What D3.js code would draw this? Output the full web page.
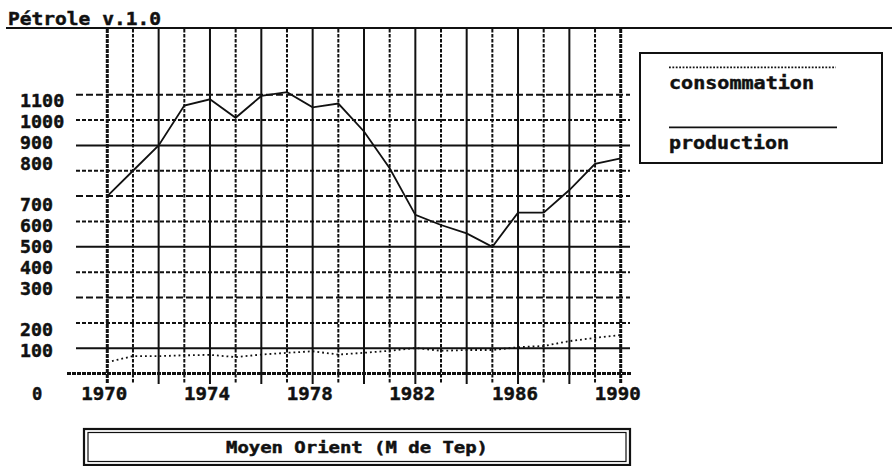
<!DOCTYPE html>
<html><head><meta charset="utf-8">
<script src="https://cdn.jsdelivr.net/npm/d3@7/dist/d3.min.js"></script>
<style>
html,body{margin:0;padding:0;background:#fff;}
text{font-family:"DejaVu Sans Mono",monospace;font-weight:bold;fill:#111;stroke:#111;stroke-width:0.45px;}
</style></head>
<body>
<svg id="c" width="892" height="466"></svg>
<script>
const years = d3.range(1970, 1991);
const production = [700, 800, 900, 1057, 1082, 1009, 1095, 1110, 1050, 1065, 955, 810, 626, 586, 553, 500, 635, 635, 724, 827, 849];
const consommation = [45, 69, 69, 72, 74, 65, 75, 82, 88, 75, 82, 90, 101, 90, 93, 93, 104, 109, 128, 141, 152];
const yTicks = [0, 100, 200, 300, 400, 500, 600, 700, 800, 900, 1000, 1100];
const xTickLabels = [1970, 1974, 1978, 1982, 1986, 1990];
const titleText = "Pétrole v.1.0";
const legendLabels = ["consommation", "production"];
const footerText = "Moyen Orient (M de Tep)";

const svg = d3.select("#c");
const x = d3.scaleLinear().domain([1970, 1990]).range([107.3, 620.7]);
const y = d3.scaleLinear().domain([0, 1100]).range([373.6, 94.7]);
const ink = "#111";
const fs = 17;

// title + underline across the page
svg.append("text").attr("x", 8).attr("y", 25).attr("font-size", fs)
  .attr("textLength", 153).attr("lengthAdjust", "spacingAndGlyphs").text(titleText);
svg.append("line").attr("x1", 6).attr("x2", 892).attr("y1", 28).attr("y2", 28)
  .attr("stroke", ink).attr("stroke-width", 2);

// horizontal grid
const g = svg.append("g");
yTicks.filter(v => v > 0).forEach(v => {
  const m = v % 400;
  const dash = m === 100 ? null : (m === 300 ? "7,3" : "4,2");
  g.append("line").attr("x1", 76).attr("x2", 630).attr("y1", y(v)).attr("y2", y(v))
    .attr("stroke", ink).attr("stroke-width", 2).attr("stroke-dasharray", dash);
});

// vertical grid
years.forEach(yr => {
  const edge = (yr === 1970 || yr === 1990);
  const solid = !edge && yr % 2 === 0;
  g.append("line").attr("x1", x(yr)).attr("x2", x(yr)).attr("y1", 29).attr("y2", 384)
    .attr("stroke", ink).attr("stroke-width", edge ? 3 : 2)
    .attr("stroke-dasharray", solid ? null : (edge ? "4,1" : "3.5,1.5"));
});

// x axis
g.append("line").attr("x1", 67).attr("x2", 632).attr("y1", y(0)).attr("y2", y(0))
  .attr("stroke", ink).attr("stroke-width", 3).attr("stroke-dasharray", "4,1");

// lines
const line = d3.line().x((d, i) => x(years[i])).y(d => y(d));
svg.append("path").datum(production).attr("d", line).attr("fill", "none")
  .attr("stroke", ink).attr("stroke-width", 1.8);
svg.append("path").datum(consommation).attr("d", line).attr("fill", "none")
  .attr("stroke", ink).attr("stroke-width", 1.8).attr("stroke-dasharray", "1.8,3");

// y labels (snapped to text rows)
const rowH = 20.85, row0 = 101;
yTicks.forEach(v => {
  let cy, lx = 20;
  if (v === 0) { cy = 393.5; lx = 32; }
  else { cy = row0 + Math.round((y(v) - row0) / rowH) * rowH; }
  svg.append("text").attr("x", lx).attr("y", cy + 6).attr("font-size", fs)
    .attr("textLength", String(v).length * 11.3 - 1).attr("lengthAdjust", "spacingAndGlyphs").text(v);
});

// x labels
xTickLabels.forEach(v => {
  svg.append("text").attr("x", x(v) - 3 - 23).attr("y", 399.5).attr("font-size", fs)
    .attr("textLength", 46).attr("lengthAdjust", "spacingAndGlyphs").text(v);
});

// legend
const lg = svg.append("g");
lg.append("rect").attr("x", 640).attr("y", 53).attr("width", 242).attr("height", 110)
  .attr("fill", "none").attr("stroke", ink).attr("stroke-width", 2);
lg.append("line").attr("x1", 669).attr("x2", 836).attr("y1", 67.3).attr("y2", 67.3)
  .attr("stroke", ink).attr("stroke-width", 1.8).attr("stroke-dasharray", "1.8,1.6");
lg.append("text").attr("x", 669).attr("y", 89).attr("font-size", fs)
  .attr("textLength", 145).attr("lengthAdjust", "spacingAndGlyphs").text(legendLabels[0]);
lg.append("line").attr("x1", 669).attr("x2", 837).attr("y1", 127.3).attr("y2", 127.3)
  .attr("stroke", ink).attr("stroke-width", 1.8);
lg.append("text").attr("x", 669).attr("y", 148.5).attr("font-size", fs)
  .attr("textLength", 120).attr("lengthAdjust", "spacingAndGlyphs").text(legendLabels[1]);

// footer box
const fb = svg.append("g");
fb.append("rect").attr("x", 84).attr("y", 429).attr("width", 546).attr("height", 36)
  .attr("fill", "none").attr("stroke", ink).attr("stroke-width", 2.2);
fb.append("rect").attr("x", 88).attr("y", 432.5).attr("width", 538).attr("height", 29)
  .attr("fill", "none").attr("stroke", ink).attr("stroke-width", 1.2);
fb.append("text").attr("x", 357).attr("y", 452.5).attr("font-size", 15).attr("text-anchor", "middle")
  .attr("textLength", 262).attr("lengthAdjust", "spacingAndGlyphs").text(footerText);
</script>
</body></html>
